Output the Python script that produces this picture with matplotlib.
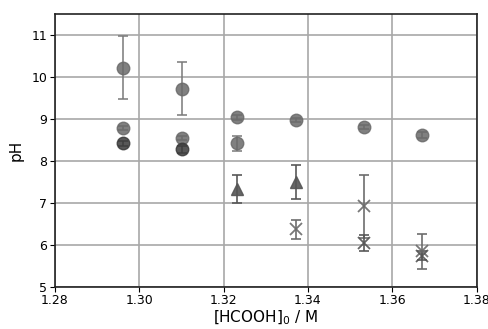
import matplotlib
matplotlib.use("Agg")
import matplotlib.pyplot as plt

# circles (upper series)
xc1 = [1.2961, 1.3101, 1.3231, 1.3371, 1.3532, 1.3671]
yc1 = [10.22, 9.72, 9.03, 8.97, 8.80, 8.61]
ec1 = [0.75, 0.63, 0.05, 0.05, 0.05, 0.08]

# circles (middle series)
xc2 = [1.2961, 1.3101, 1.3231]
yc2 = [8.78, 8.55, 8.41]
ec2 = [0.05, 0.05, 0.19]

# circles (lower, dark series)
xc3 = [1.2961, 1.3101]
yc3 = [8.41, 8.27]
ec3 = [0.07, 0.09]

# triangles
xt = [1.3231, 1.3371]
yt = [7.33, 7.49]
et = [0.33, 0.40]

# crosses (upper)
xx1 = [1.3371, 1.3532, 1.3671]
yx1 = [6.36, 6.91, 5.84]
ex1 = [0.23, 0.76, 0.42]

# crosses (lower)
xx2 = [1.3532, 1.3671]
yx2 = [6.04, 5.74]
ex2 = [0.20, 0.10]

fig = plt.figure(figsize=(4.89, 3.29), dpi=100)
ax = fig.add_axes([0.1125, 0.129, 0.862, 0.829])

kw = dict(linestyle='none', capsize=3.7, elinewidth=1.3, capthick=1.3)
ax.errorbar(xc1, yc1, yerr=ec1, fmt='o', color='#6a6a6a', ecolor='#7a7a7a',
            markersize=9, alpha=0.85, **kw)
ax.errorbar(xc2, yc2, yerr=ec2, fmt='o', color='#6a6a6a', ecolor='#7a7a7a',
            markersize=9, alpha=0.85, **kw)
ax.errorbar(xc3, yc3, yerr=ec3, fmt='o', color='#3a3a3a', ecolor='#555555',
            markersize=9, alpha=0.85, **kw)
ax.errorbar(xt, yt, yerr=et, fmt='^', color='#555555', ecolor='#555555',
            markersize=9, alpha=0.9, **kw)
ax.errorbar(xx1, yx1, yerr=ex1, fmt='x', color='#6a6a6a', ecolor='#6a6a6a',
            markersize=9, markeredgewidth=1.3, alpha=0.9, **kw)
ax.errorbar(xx2, yx2, yerr=ex2, fmt='x', color='#555555', ecolor='#555555',
            markersize=9, markeredgewidth=1.3, alpha=0.9, **kw)

ax.set_xlim(1.28, 1.38)
ax.set_ylim(5, 11.5)
ax.set_xticks([1.28, 1.30, 1.32, 1.34, 1.36, 1.38])
ax.set_xticklabels(['1.28', '1.30', '1.32', '1.34', '1.36', '1.38'])
ax.set_yticks([5, 6, 7, 8, 9, 10, 11])
ax.tick_params(labelsize=9, pad=2)
ax.grid(True, color='#a8a8a8', linewidth=1.2)
ax.set_axisbelow(True)
for s in ax.spines.values():
    s.set_color('#222222')
    s.set_linewidth(1.2)
ax.set_xlabel('[HCOOH]$_0$ / M', fontsize=11, labelpad=1)
ax.set_ylabel('pH', fontsize=11, labelpad=6)

fig.savefig('out.png', dpi=100)
